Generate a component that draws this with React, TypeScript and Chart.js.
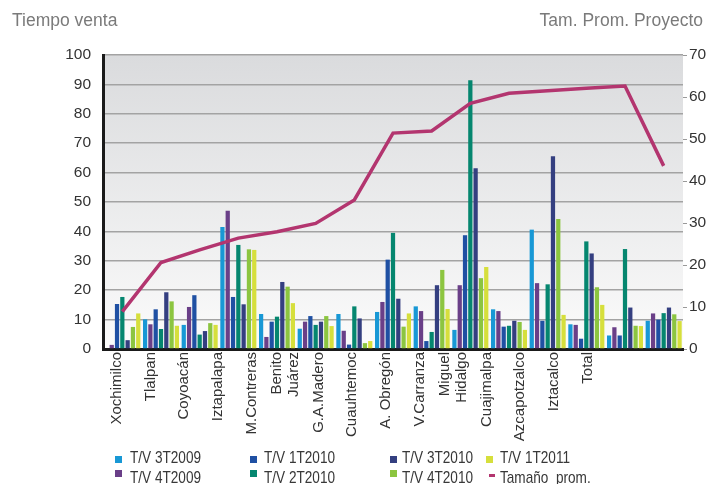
import React, { useEffect, useRef } from "react";
import { Chart, registerables } from "chart.js";

Chart.register(...registerables);

const categories: (string | string[])[] = [
  "Xochimilco", "Tlalpan", "Coyoacán", "Iztapalapa", "M.Contreras", ["Benito", "Juárez"],
  "G.A.Madero", "Cuauhtemoc", "A. Obregón", "V.Carranza", ["Miguel", "Hidalgo"],
  "Cuajimalpa", "Azcapotzalco", "Iztacalco", "Total",
];

const tv3T2009 = [0, 10.1, 8.2, 41.5, 11.9, 6.9, 11.9, 12.6, 14.5, 6.5, 13.5, 40.6, 8.4, 4.6, 9.6];
const tv4T2009 = [1.4, 8.4, 14.3, 47.0, 4.1, 9.3, 6.2, 16.0, 12.9, 21.7, 12.9, 22.4, 8.2, 7.4, 12.1];
const tv1T2010 = [15.3, 13.5, 18.3, 17.7, 9.3, 11.2, 1.5, 30.4, 2.7, 38.7, 7.6, 9.6, 3.5, 4.6, 10.0];
const tv2T2010 = [17.7, 6.8, 4.9, 35.4, 11.0, 8.2, 14.5, 39.5, 5.8, 91.4, 7.9, 22.0, 36.6, 34.0, 12.2];
const tv3T2010 = [3.0, 19.3, 6.1, 15.2, 22.8, 9.3, 10.4, 17.1, 21.7, 61.5, 9.6, 65.6, 32.5, 14.1, 14.1];
const tv4T2010 = [7.5, 16.2, 8.8, 33.9, 21.2, 11.2, 2.0, 7.6, 26.9, 24.1, 9.2, 44.2, 21.0, 7.9, 11.8];
const tv1T2011 = [12.1, 7.9, 8.2, 33.7, 15.6, 7.8, 2.7, 12.1, 13.6, 27.9, 6.5, 11.6, 15.0, 7.8, 9.5];
const tamanoProm = [8.9, 20.6, 23.6, 26.4, 27.9, 29.9, 35.5, 51.4, 51.9, 58.5, 60.9, 61.5, 62.1, 62.6, 43.6];

const leftTicks = [0, 10, 20, 30, 40, 50, 60, 70, 80, 90, 100];
const rightTicks = [0, 10, 20, 30, 40, 50, 60, 70];

const barSeries = [
  { label: "T/V 3T2009", data: tv3T2009, color: "#1898d5" },
  { label: "T/V 4T2009", data: tv4T2009, color: "#6a3f88" },
  { label: "T/V 1T2010", data: tv1T2010, color: "#1f50a3" },
  { label: "T/V 2T2010", data: tv2T2010, color: "#05866f" },
  { label: "T/V 3T2010", data: tv3T2010, color: "#343f80" },
  { label: "T/V 4T2010", data: tv4T2010, color: "#8cc540" },
  { label: "T/V 1T2011", data: tv1T2011, color: "#d6df3c" },
];
const lineLabel = "Tamaño  prom.";
const lineColor = "#b3356f";

const FONT = "'Liberation Sans', Arial, sans-serif";
// half a text line, expressed in label-axis units, to centre two-line labels
const TWO_LINE_SHIFT = 0.25;

const bgPlugin = {
  id: "plotBg",
  beforeDraw(chart: any) {
    const { ctx, chartArea } = chart;
    if (!chartArea) return;
    const { left, top, right, bottom } = chartArea;
    const g = ctx.createLinearGradient(0, top, 0, bottom);
    g.addColorStop(0, "#dadbdd");
    g.addColorStop(1, "#fbfbfb");
    ctx.save();
    ctx.fillStyle = g;
    ctx.fillRect(left, top, right - left, bottom - top);
    ctx.restore();
  },
};

// legend layout: column-major
const legendCols = [
  { sq: 115, tx: 130 },
  { sq: 250, tx: 264 },
  { sq: 390, tx: 402 },
  { sq: 486, tx: 500 },
];
const legendRows = [
  { sq: 456, tx: 448.6 },
  { sq: 470, tx: 468.6 },
];

export default function App() {
  const ref = useRef<HTMLCanvasElement | null>(null);

  useEffect(() => {
    if (!ref.current) return;
    const datasets: any[] = barSeries.map((s) => ({
      type: "bar",
      label: s.label,
      data: s.data,
      backgroundColor: s.color,
      borderWidth: 0,
      xAxisID: "x",
      yAxisID: "y",
      order: 1,
      categoryPercentage: 0.96,
      barPercentage: 0.8,
    }));
    datasets.push({
      type: "line",
      label: lineLabel,
      data: tamanoProm,
      borderColor: lineColor,
      backgroundColor: lineColor,
      borderWidth: 3.5,
      pointRadius: 0,
      tension: 0,
      xAxisID: "x",
      yAxisID: "y1",
      order: 0,
    });

    const chart = new Chart(ref.current, {
      type: "bar",
      data: { labels: categories as any, datasets },
      plugins: [bgPlugin],
      options: {
        animation: false,
        responsive: false,
        layout: { padding: { top: 55, left: 0, right: 0, bottom: 0 } },
        plugins: { legend: { display: false }, tooltip: { enabled: false } },
        scales: {
          x: {
            type: "category",
            position: "bottom",
            weight: 0,
            ticks: { display: false },
            grid: { display: false, drawTicks: false },
            border: { display: true, color: "#1a1a1a", width: 3 },
            afterFit: (s: any) => { s.height = 0; },
          },
          x2: {
            type: "linear",
            position: "bottom",
            weight: 1,
            offset: false,
            min: -0.4167,
            max: 16.845,
            grid: { display: false, drawTicks: false, offset: false },
            border: { display: false },
            afterBuildTicks: (s: any) => {
              s.ticks = categories.map((c, i) => ({
                value: Array.isArray(c) ? i - TWO_LINE_SHIFT : i,
              }));
            },
            ticks: {
              autoSkip: false,
              minRotation: 90,
              maxRotation: 90,
              padding: 3,
              color: "#333333",
              font: { family: FONT, size: 15, lineHeight: 1.13 },
              callback: (_v: any, idx: number) => categories[idx] as any,
            },
            afterFit: (s: any) => { s.height = 135; },
          },
          y: {
            type: "linear",
            position: "left",
            min: 0,
            max: 100,
            afterBuildTicks: (s: any) => { s.ticks = leftTicks.map((v) => ({ value: v })); },
            grid: { color: "#a3a3a3", lineWidth: 1.5, drawTicks: false },
            border: { display: true, color: "#1a1a1a", width: 3 },
            ticks: { padding: 12, color: "#333333", font: { family: FONT, size: 15.5 } },
            afterFit: (s: any) => { s.width = 103; },
          },
          y1: {
            type: "linear",
            position: "right",
            min: 0,
            max: 70,
            afterBuildTicks: (s: any) => { s.ticks = rightTicks.map((v) => ({ value: v })); },
            grid: { drawOnChartArea: false, drawTicks: true, tickLength: 4, color: "#999999" },
            border: { display: false },
            ticks: { padding: 2, color: "#333333", font: { family: FONT, size: 15.5 } },
            afterFit: (s: any) => { s.width = 36; },
          },
        },
      } as any,
    });
    return () => chart.destroy();
  }, []);

  const legendItems = [
    ...barSeries.map((s) => ({ label: s.label, color: s.color, line: false })),
    { label: lineLabel, color: lineColor, line: true },
  ];

  return (
    <div style={{ position: "fixed", left: 0, top: 0, width: 719, height: 484, background: "#ffffff", overflow: "hidden" }}>
      <canvas ref={ref} width={719} height={484} style={{ position: "absolute", left: 0, top: 0, width: 719, height: 484 }} />
      <div style={{ position: "absolute", left: 12, top: 12, font: `17.5px/17.5px ${FONT}`, color: "#7a7a7a", whiteSpace: "nowrap" }}>
        Tiempo venta
      </div>
      <div style={{ position: "absolute", right: 16, top: 12, font: `17.5px/17.5px ${FONT}`, color: "#7a7a7a", whiteSpace: "nowrap" }}>
        Tam. Prom. Proyecto
      </div>
      {legendItems.map((it, i) => {
        const col = legendCols[Math.floor(i / 2)];
        const row = legendRows[i % 2];
        return (
          <React.Fragment key={i}>
            {it.line ? (
              <div style={{ position: "absolute", left: col.sq + 3, top: row.sq + 4, width: 6, height: 3, background: it.color }} />
            ) : (
              <div style={{ position: "absolute", left: col.sq, top: row.sq, width: 7, height: 7, background: it.color }} />
            )}
            <div
              style={{
                position: "absolute",
                left: col.tx,
                top: row.tx,
                font: `17px/17px ${FONT}`,
                color: "#383838",
                whiteSpace: "pre",
                transform: "scaleX(0.8)",
                transformOrigin: "0 0",
              }}
            >
              {it.label}
            </div>
          </React.Fragment>
        );
      })}
    </div>
  );
}
